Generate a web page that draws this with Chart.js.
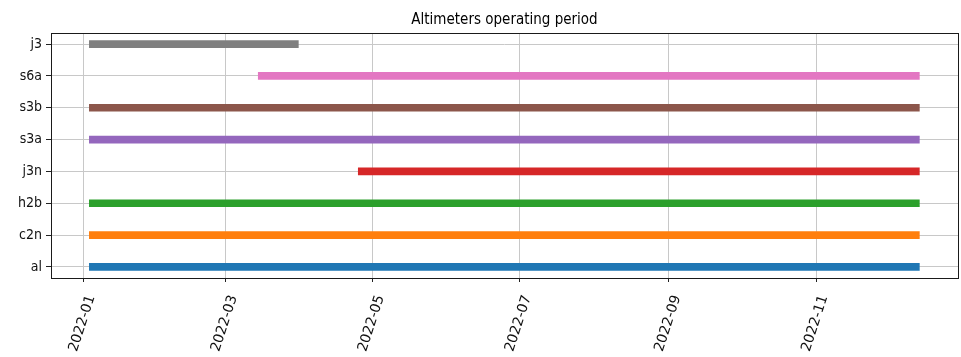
<!DOCTYPE html>
<html>
<head>
<meta charset="utf-8">
<title>Altimeters operating period</title>
<script src="https://cdn.jsdelivr.net/npm/chart.js@4/dist/chart.umd.min.js"></script>
<style>
  html, body { margin: 0; padding: 0; background: #ffffff; }
  canvas { display: block; }
</style>
</head>
<body>
<canvas id="chart" width="961" height="357"></canvas>
<script>
// Altimeter missions, listed from the bottom row to the top row
const missions = ['al', 'c2n', 'h2b', 'j3n', 's3a', 's3b', 's6a', 'j3'];

// Operating period of each mission (UTC)
const startDates = [
  '2022-01-03T12:00Z', '2022-01-03T12:00Z', '2022-01-03T12:00Z', '2022-04-25T02:00Z',
  '2022-01-03T12:00Z', '2022-01-03T12:00Z', '2022-03-14T14:00Z', '2022-01-03T12:00Z'
];
const endDates = [
  '2022-12-13T21:00Z', '2022-12-13T21:00Z', '2022-12-13T21:00Z', '2022-12-13T21:00Z',
  '2022-12-13T21:00Z', '2022-12-13T21:00Z', '2022-12-13T21:00Z', '2022-03-31T05:00Z'
];

const missionColors = ['#1f77b4', '#ff7f0e', '#2ca02c', '#d62728', '#9467bd', '#8c564b', '#e377c2', '#7f7f7f'];

// Month ticks along the time axis and the visible time window
const monthTicks = ['2022-01', '2022-03', '2022-05', '2022-07', '2022-09', '2022-11'];
const timeWindow = ['2021-12-18T14:00Z', '2022-12-29T22:00Z'];

const toMs = (s) => Date.parse(s);
const monthTickValues = monthTicks.map((m) => Date.parse(m + '-01T00:00:00Z'));

const periods = missions.map((name, i) => ({
  y: i,
  x: [toMs(startDates[i]), toMs(endDates[i])]
}));

const condensed = "'DejaVu Sans Condensed', 'DejaVu Sans', sans-serif";

// Full box around the plotting area
const frame = {
  id: 'frame',
  afterDraw(chart) {
    const { ctx, chartArea: a } = chart;
    ctx.save();
    ctx.strokeStyle = '#1a1a1a';
    ctx.lineWidth = 1;
    ctx.strokeRect(Math.round(a.left) + 0.5, Math.round(a.top) + 0.5,
      Math.round(a.right - a.left), Math.round(a.bottom - a.top));
    ctx.restore();
  }
};

new Chart(document.getElementById('chart'), {
  type: 'bar',
  data: {
    datasets: [{
      data: periods,
      backgroundColor: missionColors,
      borderWidth: 0,
      barThickness: 7
    }]
  },
  options: {
    indexAxis: 'y',
    responsive: false,
    animation: false,
    layout: { padding: { top: 0, right: 3, bottom: 0, left: 0 } },
    plugins: {
      legend: { display: false },
      tooltip: { enabled: false },
      title: {
        display: true,
        text: 'Altimeters operating period',
        fullSize: false,
        color: '#000',
        font: { family: condensed, size: 15, weight: 'normal' },
        padding: { top: 11, bottom: 4 }
      }
    },
    scales: {
      x: {
        type: 'linear',
        z: 1,
        offset: false,
        min: toMs(timeWindow[0]),
        max: toMs(timeWindow[1]),
        afterBuildTicks: (scale) => {
          scale.ticks = monthTickValues.map((v) => ({ value: v }));
        },
        afterFit: (scale) => { scale.height = 79; },
        border: { display: false },
        grid: {
          offset: false,
          color: '#c8c8c8',
          lineWidth: 1,
          drawTicks: true,
          tickLength: 4,
          tickColor: '#222',
          tickWidth: 1
        },
        ticks: {
          autoSkip: false,
          minRotation: 72,
          maxRotation: 72,
          labelOffset: 8,
          padding: 11,
          color: '#111',
          font: { family: "'DejaVu Sans', sans-serif", size: 14 },
          callback: (v) => monthTicks[monthTickValues.indexOf(v)]
        }
      },
      y: {
        type: 'linear',
        z: 1,
        offset: false,
        min: -0.35,
        max: 7.35,
        afterBuildTicks: (scale) => {
          scale.ticks = missions.map((_, i) => ({ value: i }));
        },
        afterFit: (scale) => { scale.width = 51; },
        border: { display: false },
        grid: {
          offset: false,
          color: '#c8c8c8',
          lineWidth: 1,
          drawTicks: true,
          tickLength: 5,
          tickColor: '#222',
          tickWidth: 1
        },
        ticks: {
          padding: 4,
          color: '#111',
          font: { family: condensed, size: 14 },
          callback: (v) => missions[v]
        }
      }
    }
  },
  plugins: [frame]
});
</script>
</body>
</html>
